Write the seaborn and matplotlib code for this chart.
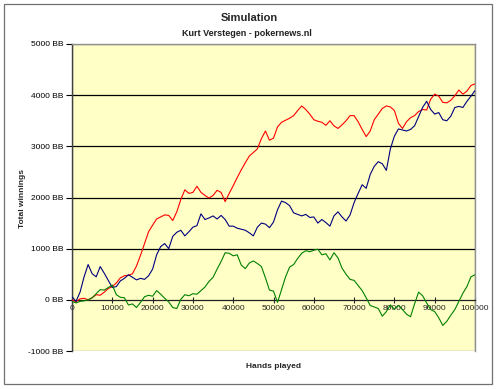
import numpy as np
import pandas as pd
import matplotlib
matplotlib.use("Agg")
import matplotlib.pyplot as plt
import seaborn as sns
from matplotlib.patches import Rectangle

# hands played, in steps of 1000
hands = list(range(0, 100001, 1000))

red = [0, -40, 20, 30, 0, 40, 100, 90, 150, 220,
       260, 330, 430, 470, 480, 510, 660, 870, 1100, 1330,
       1460, 1580, 1620, 1660, 1650, 1550, 1720, 1960, 2150, 2080,
       2100, 2220, 2100, 2040, 1990, 2040, 2140, 2100, 1920, 2080,
       2230, 2390, 2540, 2680, 2810, 2880, 2950, 3150, 3300, 3120,
       3160, 3380, 3470, 3510, 3550, 3600, 3700, 3790, 3720, 3630,
       3520, 3490, 3470, 3410, 3500, 3400, 3350, 3420, 3500, 3600,
       3600, 3480, 3330, 3190, 3300, 3520, 3630, 3740, 3790, 3770,
       3700, 3450, 3350, 3480, 3560, 3600, 3680, 3720, 3710, 3920,
       4020, 3980, 3860, 3850, 3900, 3990, 4100, 4020, 4080, 4190,
       4220]

blue = [60, -30, 150, 450, 690, 510, 450, 650, 520, 380,
        240, 260, 370, 420, 490, 440, 390, 420, 400, 470,
        600, 880, 1040, 1100, 1000, 1240, 1320, 1360, 1250, 1330,
        1420, 1450, 1680, 1570, 1600, 1640, 1580, 1650, 1570, 1440,
        1440, 1400, 1380, 1360, 1310, 1250, 1420, 1500, 1480, 1410,
        1520, 1760, 1930, 1900, 1840, 1700, 1670, 1640, 1670, 1610,
        1620, 1500, 1570, 1510, 1440, 1640, 1720, 1620, 1540, 1660,
        1900, 2080, 2250, 2180, 2450, 2610, 2700, 2660, 2530, 2950,
        3200, 3340, 3320, 3300, 3330, 3400, 3580, 3760, 3880, 3720,
        3630, 3660, 3520, 3500, 3590, 3760, 3780, 3760, 3880, 3980,
        4090]

green = [-30, -60, -30, -20, 0, 40, 120, 200, 190, 240,
         290, 100, 50, 40, -100, -80, -150, -50, 60, 90,
         70, 180, 110, 30, -40, -150, -170, 10, 100, 80,
         120, 110, 180, 250, 360, 440, 600, 750, 920, 910,
         860, 880, 680, 610, 720, 760, 710, 650, 430, 190,
         170, -50, 200, 450, 640, 690, 810, 910, 960, 940,
         970, 990, 880, 900, 780, 920, 820, 620, 500, 400,
         380, 280, 180, 40, -110, -140, -170, -320, -230, -100,
         -180, -110, -190, -280, -330, -80, 150, 80, -60, -190,
         -230, -350, -500, -420, -300, -190, -30, 130, 260, 450,
         490]

yticks = [-1000, 0, 1000, 2000, 3000, 4000, 5000]
xticks = list(range(0, 100001, 10000))

df = pd.DataFrame({
    "hands": hands * 3,
    "winnings": red + blue + green,
    "run": ["a"] * len(red) + ["b"] * len(blue) + ["c"] * len(green),
})

sns.set_style("white")
plt.rcParams["font.family"] = ["Liberation Sans", "DejaVu Sans"]

fig = plt.figure(figsize=(4.97, 3.89), dpi=100)
ax = fig.add_axes([72 / 497, 38 / 389, 403 / 497, 307 / 389])
ax.set_facecolor("#FFFFC6")

# outer chart border
fig.patches.append(Rectangle((4 / 497, 5 / 389), 488 / 497, 380 / 389,
                             transform=fig.transFigure, fill=False,
                             edgecolor="#707070", linewidth=0.9))

# x axis crosses at 0 like in excel (set before ticks, it resets them)
for side in ["top", "right", "left"]:
    ax.spines[side].set_color("#909090")
    ax.spines[side].set_linewidth(1.0)
ax.spines["left"].set_color("#404040")
ax.spines["bottom"].set_position(("data", 0))
ax.spines["bottom"].set_color("#202020")
ax.spines["bottom"].set_linewidth(0.9)
ax.add_patch(Rectangle((0, 0), 1, 1, transform=ax.transAxes, fill=False,
                       edgecolor="#909090", linewidth=1.0, zorder=0.5))

for yv in [1000, 2000, 3000, 4000]:
    ax.axhline(yv, color="black", linewidth=0.9, zorder=1)

sns.lineplot(data=df, x="hands", y="winnings", hue="run",
             palette=["#FF0000", "#000080", "#008000"],
             linewidth=0.8, legend=False, ax=ax, zorder=3)

ax.set_xlim(0, 100000)
ax.set_ylim(-1000, 5000)
ax.set_yticks(yticks)
ax.set_yticklabels([f"{v} BB" for v in yticks])
ax.set_xticks(xticks)
ax.set_xticklabels([str(v) for v in xticks])

ax.tick_params(axis="y", direction="out", length=4, width=0.8, pad=2,
               left=True, labelsize=6, colors="#000000")
ax.tick_params(axis="x", direction="inout", length=4, width=0.8, pad=2,
               bottom=True, labelsize=6)

ax.set_xlabel("")
ax.set_ylabel("")
fig.text(273 / 497, 1 - 367 / 389, "Hands played", ha="center", va="center",
         fontsize=6, fontweight="bold")
fig.text(22 / 497, 1 - 198 / 389, "Total winnings", ha="center", va="center",
         rotation=90, fontsize=6, fontweight="bold")
fig.text(249 / 497, 1 - 18 / 389, "Simulation", ha="center", va="center",
         fontsize=8, fontweight="bold")
fig.text(247 / 497, 1 - 33 / 389, "Kurt Verstegen - pokernews.nl",
         ha="center", va="center", fontsize=6.5, fontweight="bold",
         color="#202020")

fig.savefig("out.png", dpi=100)
